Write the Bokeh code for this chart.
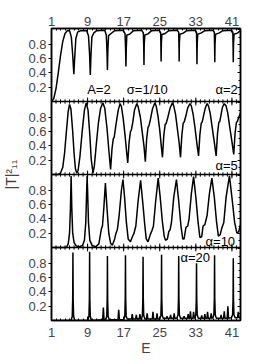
from bokeh.plotting import figure
from bokeh.models import Range1d, LinearAxis, FixedTicker, CustomJSTickFormatter, Span
from bokeh.core.properties import value
from bokeh.embed import file_html
from bokeh.resources import INLINE

# ---------------- data ----------------
E_a2 = [1.0, 1.5, 2.0, 2.5, 3.0, 3.5, 4.0, 4.5,
        5.0, 5.4, 5.7, 5.95, 6.15, 6.4, 6.8, 7.5,
        8.8, 9.2, 9.45, 9.6, 9.75, 9.95, 10.4, 11.0,
        12.8, 13.15, 13.3, 13.4, 13.5, 13.65, 14.2, 15.0,
        16.9, 17.3, 17.42, 17.5, 17.58, 17.7, 18.3, 19.2,
        21.0, 21.35, 21.44, 21.5, 21.56, 21.68, 22.4, 23.2,
        24.9, 25.2, 25.25, 25.3, 25.36, 25.48, 26.2, 27.0,
        28.9, 29.2, 29.25, 29.3, 29.35, 29.47, 30.2, 31.0,
        32.9, 33.15, 33.2, 33.25, 33.3, 33.42, 34.1, 35.0,
        36.85, 37.1, 37.15, 37.2, 37.25, 37.37, 38.1, 39.0,
        40.95, 41.2, 41.25, 41.3, 41.35, 41.47, 42.2, 42.9]
T_a2 = [0.0, 0.04, 0.18, 0.4, 0.64, 0.84, 0.95, 0.99,
        0.99, 0.9, 0.65, 0.38, 0.62, 0.88, 0.97, 0.99,
        0.99, 0.92, 0.65, 0.37, 0.65, 0.9, 0.96, 0.99,
        0.995, 0.93, 0.7, 0.44, 0.72, 0.92, 0.95, 0.99,
        0.995, 0.95, 0.75, 0.49, 0.75, 0.93, 0.94, 0.99,
        0.995, 0.96, 0.8, 0.51, 0.8, 0.93, 0.945, 0.99,
        0.995, 0.96, 0.8, 0.56, 0.82, 0.935, 0.95, 0.99,
        0.995, 0.965, 0.82, 0.56, 0.82, 0.94, 0.955, 0.99,
        0.995, 0.965, 0.8, 0.52, 0.8, 0.94, 0.955, 0.99,
        0.995, 0.965, 0.8, 0.55, 0.8, 0.94, 0.955, 0.99,
        0.995, 0.965, 0.8, 0.55, 0.8, 0.94, 0.955, 0.99]

E_a5 = [1.0, 2.5, 3.0, 3.5, 3.9, 4.3, 4.7, 5.0,
        5.3, 5.7, 6.0, 6.3, 6.6,
        6.9, 7.3, 7.8, 8.3, 8.7,
        9.1, 9.5, 9.8, 10.2,
        10.5, 10.9, 11.4, 11.9, 12.4,
        12.8, 13.3, 13.7, 14.1,
        14.4, 14.7, 14.9, 15.3, 15.8, 16.2,
        16.5, 16.9, 17.3, 17.6, 17.9,
        18.2, 18.5, 18.7, 19.0, 19.4, 19.9,
        20.2, 20.7, 21.1, 21.5, 21.8,
        22.1, 22.4, 22.6, 22.9, 23.4, 23.9,
        24.2, 24.6, 25.0, 25.3, 25.6,
        25.9, 26.2, 26.4, 26.8, 27.3, 27.8,
        28.1, 28.5, 28.9, 29.3, 29.6,
        29.9, 30.2, 30.4, 30.8, 31.2, 31.7,
        32.0, 32.4, 32.8, 33.2, 33.6,
        33.9, 34.2, 34.4, 34.7, 35.1, 35.5,
        35.8, 36.2, 36.6, 37.1, 37.5,
        37.8, 38.1, 38.3, 38.6, 38.9, 39.3,
        39.7, 40.1, 40.5, 41.0, 41.4,
        41.7, 42.0, 42.2, 42.5, 42.9]
T_a5 = [0.0, 0.0, 0.02, 0.1, 0.3, 0.6, 0.88, 0.98,
        0.92, 0.6, 0.3, 0.08, 0.02,
        0.06, 0.25, 0.6, 0.9, 1.0,
        0.9, 0.55, 0.22, 0.02,
        0.12, 0.4, 0.72, 0.93, 1.0,
        0.93, 0.65, 0.35, 0.07,
        0.35, 0.5, 0.52, 0.7, 0.9, 0.99,
        0.95, 0.78, 0.55, 0.35, 0.16,
        0.45, 0.6, 0.62, 0.72, 0.9, 0.99,
        0.95, 0.8, 0.6, 0.4, 0.18,
        0.5, 0.66, 0.68, 0.76, 0.92, 1.0,
        0.96, 0.82, 0.62, 0.42, 0.24,
        0.55, 0.7, 0.71, 0.8, 0.93, 1.0,
        0.96, 0.84, 0.64, 0.44, 0.24,
        0.55, 0.72, 0.73, 0.82, 0.93, 0.99,
        0.96, 0.84, 0.66, 0.45, 0.26,
        0.56, 0.72, 0.73, 0.82, 0.93, 0.99,
        0.96, 0.85, 0.67, 0.45, 0.26,
        0.57, 0.73, 0.74, 0.84, 0.94, 0.99,
        0.96, 0.85, 0.67, 0.46, 0.28,
        0.58, 0.73, 0.74, 0.8, 0.86]

E_a10 = [1.0, 4.3, 4.7, 5.0, 5.2, 5.35, 5.5, 5.7, 6.0, 6.5,
         7.2, 7.9, 8.3, 8.6, 8.8, 8.9, 9.0, 9.2, 9.5, 10.0,
         10.8, 11.5, 11.9, 12.1, 12.3, 12.6, 12.95, 13.3, 13.7, 14.1,
         14.5, 15.0, 15.3, 15.6, 16.0, 16.5, 16.85, 17.2, 17.6, 18.0,
         18.5, 19.0, 19.3, 19.7, 20.2, 20.75, 21.2, 21.7, 22.0, 22.4,
         22.9, 23.3, 23.6, 24.1, 24.65, 25.1, 25.6, 26.0, 26.3, 26.7,
         27.0, 27.3, 27.6, 28.1, 28.7, 29.2, 29.7, 30.1, 30.4, 30.8,
         31.2, 31.5, 32.0, 32.5, 33.0, 33.5, 33.9, 34.3, 34.6, 35.0,
         35.5, 36.0, 36.55, 37.1, 37.6, 38.0, 38.4, 38.8, 39.2, 39.7,
         40.45, 41.0, 41.6, 42.1, 42.5, 42.9]
T_a10 = [0.0, 0.0, 0.05, 0.2, 0.55, 1.0, 0.55, 0.2, 0.07, 0.02,
         0.01, 0.03, 0.1, 0.35, 0.8, 1.0, 0.8, 0.35, 0.1, 0.03,
         0.01, 0.05, 0.2, 0.27, 0.3, 0.55, 0.9, 0.55, 0.2, 0.06,
         0.03, 0.12, 0.2, 0.25, 0.45, 0.8, 0.95, 0.7, 0.35, 0.12,
         0.08, 0.16, 0.2, 0.3, 0.65, 0.94, 0.65, 0.3, 0.12, 0.08,
         0.18, 0.24, 0.3, 0.65, 0.97, 0.7, 0.35, 0.15, 0.1, 0.12,
         0.22, 0.25, 0.35, 0.7, 0.95, 0.65, 0.3, 0.12, 0.12, 0.28,
         0.3, 0.4, 0.75, 0.99, 0.7, 0.35, 0.14, 0.15, 0.3, 0.32,
         0.45, 0.75, 0.97, 0.7, 0.35, 0.16, 0.18, 0.28, 0.35, 0.7,
         1.0, 0.7, 0.35, 0.2, 0.22, 0.32]

E_a20 = [1.0,
         5.35, 5.6, 5.7, 5.75, 5.8, 5.9, 6.15,
         9.05, 9.3, 9.4, 9.45, 9.5, 9.6, 9.85,
         12.35, 12.5, 12.65,
         13.0, 13.25, 13.35, 13.4, 13.45, 13.55, 13.8,
         15.75, 15.9, 16.05,
         17.0, 17.25, 17.35, 17.4, 17.45, 17.55, 17.8,
         18.75, 18.9, 19.05,
         19.65, 19.8, 19.95,
         20.45, 20.6, 20.75,
         20.95, 21.15, 21.25, 21.3, 21.35, 21.45, 21.7,
         22.05, 22.2, 22.35,
         23.35, 23.5, 23.65,
         24.25, 24.4, 24.55,
         25.0, 25.25, 25.35, 25.4, 25.45, 25.55, 25.8,
         26.45, 26.6, 26.75,
         27.25, 27.4, 27.55,
         28.05, 28.2, 28.35,
         28.8, 29.05, 29.15, 29.2, 29.25, 29.35, 29.6,
         30.25, 30.4, 30.55,
         31.15, 31.3, 31.45,
         31.65, 31.8, 31.95,
         32.35, 32.5, 32.65,
         32.8, 33.0, 33.1, 33.15, 33.2, 33.3, 33.55,
         34.15, 34.3, 34.45,
         34.85, 35.0, 35.15,
         35.45, 35.6, 35.75,
         36.25, 36.4, 36.55,
         36.8, 37.0, 37.1, 37.15, 37.2, 37.3, 37.55,
         38.45, 38.6, 38.75,
         39.15, 39.3, 39.45,
         39.95, 40.1, 40.25,
         40.9, 41.15, 41.25, 41.3, 41.35, 41.45, 41.7,
         42.25, 42.4, 42.55,
         42.9]
T_a20 = [0.0,
         0.0, 0.06, 0.3, 0.95, 0.3, 0.06, 0.0,
         0.0, 0.06, 0.3, 0.96, 0.3, 0.06, 0.0,
         0.01, 0.18, 0.01,
         0.01, 0.06, 0.3, 0.9, 0.3, 0.06, 0.01,
         0.01, 0.15, 0.01,
         0.01, 0.06, 0.3, 0.91, 0.3, 0.06, 0.02,
         0.02, 0.09, 0.02,
         0.02, 0.08, 0.02,
         0.02, 0.09, 0.02,
         0.02, 0.07, 0.3, 0.89, 0.3, 0.07, 0.02,
         0.02, 0.1, 0.02,
         0.02, 0.12, 0.02,
         0.02, 0.1, 0.02,
         0.02, 0.07, 0.3, 0.92, 0.3, 0.07, 0.03,
         0.03, 0.06, 0.03,
         0.03, 0.08, 0.03,
         0.03, 0.1, 0.03,
         0.03, 0.08, 0.3, 0.9, 0.3, 0.08, 0.03,
         0.03, 0.06, 0.03,
         0.03, 0.09, 0.03,
         0.03, 0.13, 0.03,
         0.03, 0.12, 0.03,
         0.04, 0.08, 0.3, 0.8, 0.3, 0.08, 0.03,
         0.03, 0.07, 0.03,
         0.03, 0.09, 0.03,
         0.03, 0.12, 0.03,
         0.03, 0.1, 0.03,
         0.04, 0.08, 0.3, 0.91, 0.3, 0.08, 0.03,
         0.03, 0.08, 0.03,
         0.03, 0.13, 0.03,
         0.03, 0.2, 0.03,
         0.04, 0.08, 0.3, 0.87, 0.3, 0.08, 0.04,
         0.04, 0.12, 0.04,
         0.04]

panel_names = ["a2", "a5", "a10", "a20"]          # top to bottom
panel_labels = ["\u03b1=2", "\u03b1=5", "\u03b1=10", "\u03b1=20"]
param_labels = ["A=2", "\u03c3=1/10"]
x_major = [1, 9, 17, 25, 33, 41]
x_minor = list(range(1, 43))
y_major = [0.2, 0.4, 0.6, 0.8]
y_right_major = [0.2, 0.4, 0.6, 0.8, 1.0]
y_right_minor = [0.1, 0.3, 0.5, 0.7, 0.9]

series = {"a2": (E_a2, T_a2), "a5": (E_a5, T_a5),
          "a10": (E_a10, T_a10), "a20": (E_a20, T_a20)}
for k, (e, t) in series.items():
    assert len(e) == len(t), (k, len(e), len(t))

# ---------------- layout ----------------
PH = 1.02      # vertical extent of each panel in data units
NP = 4
FONT = "Liberation Sans"

p = figure(width=242, height=358,
           x_range=Range1d(1, 42.9), y_range=Range1d(0, NP * PH),
           output_backend="svg", toolbar_location=None,
           x_axis_location=None, y_axis_location=None,
           min_border_left=46, min_border_right=2,
           min_border_top=28, min_border_bottom=37)
for g in p.grid:
    g.visible = False
p.outline_line_color = "black"
p.outline_line_width = 1.5
p.background_fill_color = "white"
p.border_fill_color = "white"

p.extra_y_ranges = {name: Range1d(-(NP - 1 - k) * PH, (k + 1) * PH)
                    for k, name in enumerate(panel_names)}


def style_x(ax, standoff):
    ax.major_tick_in = 4
    ax.major_tick_out = 0
    ax.minor_tick_in = 2
    ax.minor_tick_out = 0
    ax.axis_line_width = 1.5
    ax.major_tick_line_width = 1
    ax.minor_tick_line_width = 1
    ax.major_label_text_font = FONT
    ax.major_label_text_font_size = "13px"
    ax.major_label_standoff = standoff


top = LinearAxis(ticker=FixedTicker(ticks=x_major, minor_ticks=x_minor))
style_x(top, 3)
p.add_layout(top, "above")

bottom = LinearAxis(ticker=FixedTicker(ticks=x_major, minor_ticks=x_minor))
style_x(bottom, 7)
bottom.axis_label = "E"
bottom.axis_label_text_font = FONT
bottom.axis_label_text_font_style = "normal"
bottom.axis_label_text_font_size = "14px"
bottom.axis_label_standoff = 0
p.add_layout(bottom, "below")

left_ticks = [(NP - 1 - k) * PH + t for k in range(NP) for t in y_major]
left = LinearAxis(ticker=FixedTicker(ticks=left_ticks, minor_ticks=[]),
                  formatter=CustomJSTickFormatter(
                      args=dict(ph=PH),
                      code="const v = tick - Math.floor((tick + 1e-6) / ph) * ph; return v.toFixed(1);"))
left.major_tick_out = 3
left.major_tick_in = 0
left.minor_tick_out = 0
left.minor_tick_in = 0
left.axis_line_width = 1.5
left.major_label_text_font = FONT
left.major_label_text_font_size = "13px"
left.major_label_standoff = 2
left.axis_label = "|T|\u00b2\u2081\u2081"
left.axis_label_text_font = FONT
left.axis_label_text_font_style = "normal"
left.axis_label_text_font_size = "14px"
left.axis_label_standoff = 6
p.add_layout(left, "left")

right_major = [(NP - 1 - k) * PH + t for k in range(NP) for t in y_right_major]
right_minor = [(NP - 1 - k) * PH + t for k in range(NP) for t in y_right_minor]
right = LinearAxis(ticker=FixedTicker(ticks=right_major, minor_ticks=right_minor),
                   formatter=CustomJSTickFormatter(code="return '';"))
right.major_tick_in = 3
right.major_tick_out = 0
right.minor_tick_in = 2
right.minor_tick_out = 0
right.axis_line_width = 1.5
right.major_label_text_font_size = "0px"
right.major_label_standoff = 0
p.add_layout(right, "right")

# panel separators and their inward ticks
for b in range(1, NP):
    p.add_layout(Span(location=b * PH, dimension="width",
                      line_color="black", line_width=1.5))
    x0 = x_minor + x_major
    lens = [0.03] * len(x_minor) + [0.055] * len(x_major)
    p.segment(x0=x0, x1=x0, y0=[b * PH] * len(x0),
              y1=[b * PH + d for d in lens], line_color="black", line_width=1)
    p.segment(x0=x0, x1=x0, y0=[b * PH] * len(x0),
              y1=[b * PH - d for d in lens], line_color="black", line_width=1)

# curves
for name in panel_names:
    e, t = series[name]
    p.line(e, t, y_range_name=name, line_color="black", line_width=1.5)

# annotations
txt = dict(text_font=value(FONT), text_font_size="13px", text_color="black",
           text_baseline="middle")
p.text(x=[8.9], y=[0.17], text=[param_labels[0]], y_range_name="a2",
       text_align="left", **txt)
p.text(x=[17.7], y=[0.17], text=[param_labels[1]], y_range_name="a2",
       text_align="left", **txt)
p.text(x=[42.3], y=[0.17], text=[panel_labels[0]], y_range_name="a2",
       text_align="right", **txt)
p.text(x=[42.3], y=[0.12], text=[panel_labels[1]], y_range_name="a5",
       text_align="right", **txt)
p.text(x=[41.7], y=[0.08], text=[panel_labels[2]], y_range_name="a10",
       text_align="right", **txt)
p.text(x=[29.6], y=[0.88], text=[panel_labels[3]], y_range_name="a20",
       text_align="left", **txt)

open("out.html", "w").write(file_html(p, INLINE))
